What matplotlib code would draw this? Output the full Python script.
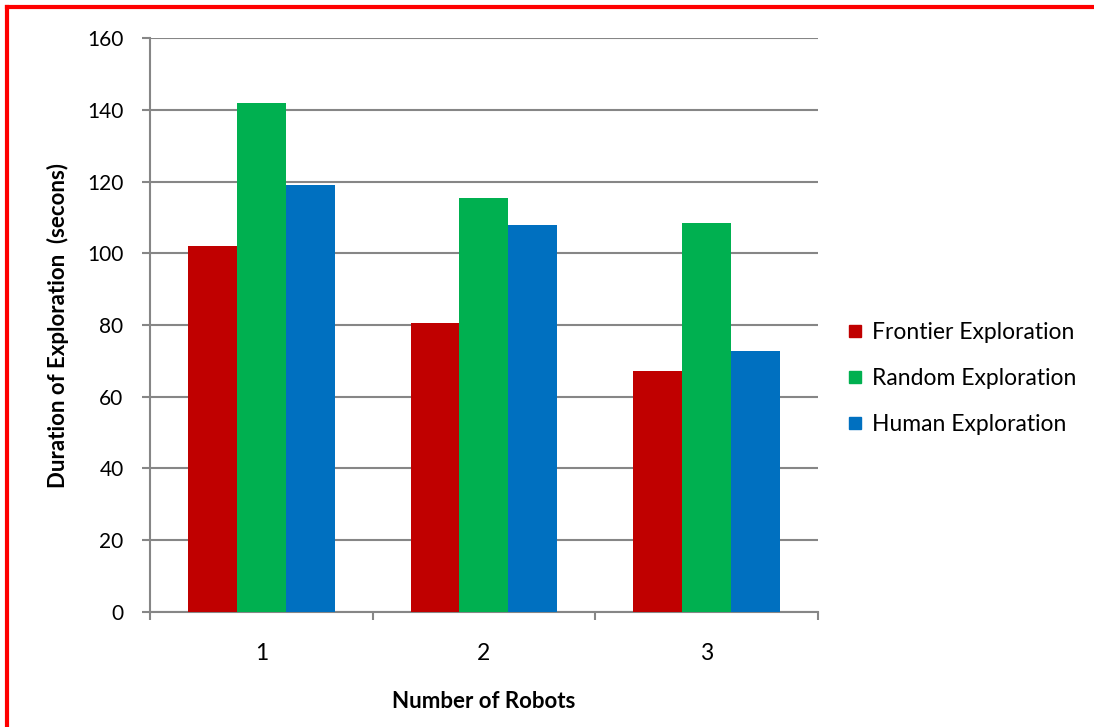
import numpy as np
import matplotlib
matplotlib.use("Agg")
import matplotlib.pyplot as plt
from matplotlib.lines import Line2D

plt.rcParams['font.family'] = ['Lato', 'DejaVu Sans']

# durations per robot count
robots = ["1", "2", "3"]
frontier = [102, 80.5, 67.3]
random_expl = [142, 115.3, 108.3]
human = [119, 108, 72.8]
series_names = ["Frontier Exploration", "Random Exploration", "Human Exploration"]
series_colors = ["#C00000", "#00B050", "#0070C0"]

fig = plt.figure(figsize=(10.94, 7.27), dpi=100)
ax = fig.add_axes([0.1371, 0.1582, 0.6106, 0.7895])

x = np.arange(len(robots))
w = 0.22
for i, (vals, name, col) in enumerate(zip([frontier, random_expl, human], series_names, series_colors)):
    ax.bar(x + (i - 1) * w, vals, w, color=col, label=name, zorder=3)

ax.set_xlim(-0.5, 2.5)
ax.set_ylim(0, 160)
ax.set_yticks(range(0, 161, 20))
ax.yaxis.grid(True, color="#868686", linewidth=1.5, zorder=0)
ax.set_axisbelow(True)

for s in ["top", "right"]:
    ax.spines[s].set_visible(False)
for s in ["left", "bottom"]:
    ax.spines[s].set_color("#868686")
    ax.spines[s].set_linewidth(1.5)

ax.set_xticks(x)
ax.set_xticklabels(robots, fontsize=16.5)
ax.set_xticks([-0.5, 0.5, 1.5, 2.5], minor=True)
ax.tick_params(axis="x", which="major", length=0, pad=22)
ax.tick_params(axis="x", which="minor", length=6, width=1.5, color="#868686")
ax.tick_params(axis="y", length=6, width=1.5, color="#868686", labelsize=15, pad=13)

ax.set_xlabel("Number of Robots", fontsize=16, fontweight="bold", labelpad=20)
ax.set_ylabel("Duration of Exploration  (secons)", fontsize=16, fontweight="bold", labelpad=13)

handles = [Line2D([], [], marker="s", linestyle="none", markersize=9,
                  markerfacecolor=c, markeredgecolor=c) for c in series_colors]
fig.legend(handles, series_names, loc="center left", bbox_to_anchor=(0.765, 0.479),
           frameon=False, fontsize=16.5, handlelength=0.6, handletextpad=0.45,
           labelspacing=1.1, borderpad=0)

# red frame on top and left edges
fig.add_artist(Line2D([0.0064, 0.9995], [0.9904, 0.9904], color="red", linewidth=3, transform=fig.transFigure))
fig.add_artist(Line2D([0.0064, 0.0064], [0.0, 0.9904], color="red", linewidth=3, transform=fig.transFigure))

fig.savefig("out.png", dpi=100)
